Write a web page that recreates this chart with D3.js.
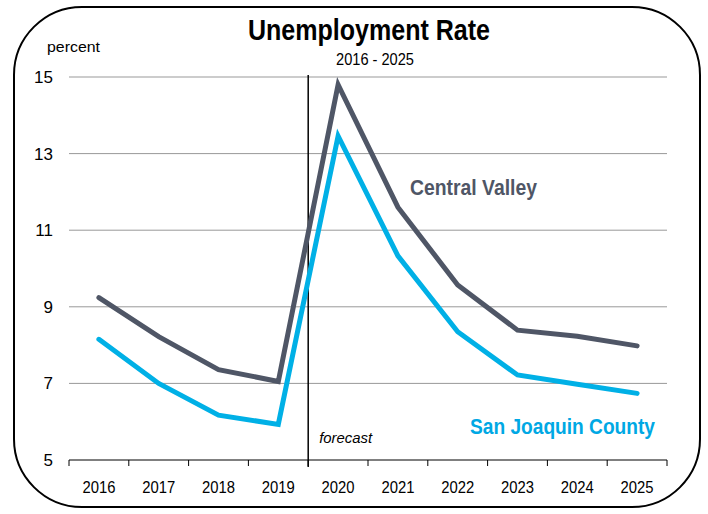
<html>
<head>
<script src="https://d3js.org/d3.v7.min.js"></script>
<style>
body { margin:0; background:#fff; }
text { font-family: "Liberation Sans Narrow", "Arial Narrow", "Liberation Sans", Arial, sans-serif; }
</style>
</head>
<body>
<script>
var width = 708;
var height = 514;
var margin = {top:77, right:41, bottom:54, left:69};
var w = width - margin.left - margin.right;
var h = height - margin.top - margin.bottom;

var years = ["2016","2017","2018","2019","2020","2021","2022","2023","2024","2025"];
var centralValley = [9.24, 8.22, 7.36, 7.05, 14.8, 11.6, 9.57, 8.39, 8.23, 7.98];
var sanJoaquin = [8.15, 7.0, 6.17, 5.93, 13.46, 10.33, 8.35, 7.22, 6.98, 6.74];
var yTicks = [5, 7, 9, 11, 13, 15];

var x = d3.scaleBand().domain(years).range([0, w]);
var y = d3.scaleLinear().domain([5, 15]).range([h, 0]);

var svg = d3.select("body").append("svg")
    .attr("width", width)
    .attr("height", height);

// rounded frame
svg.append("rect")
    .attr("x", 14).attr("y", 7)
    .attr("width", 686).attr("height", 500)
    .attr("rx", 68).attr("ry", 68)
    .attr("fill", "none")
    .attr("stroke", "black")
    .attr("stroke-width", 2);

svg.append("text").attr("x", 248).attr("y", 40)
    .style("font-size", "29px")
    .style("font-weight", "bold")
    .attr("textLength", 242)
    .attr("lengthAdjust", "spacingAndGlyphs")
    .text("Unemployment Rate");
svg.append("text").attr("x", 336).attr("y", 65)
    .style("font-size", "16px")
    .attr("textLength", 78)
    .attr("lengthAdjust", "spacingAndGlyphs")
    .text("2016 - 2025");
svg.append("text").attr("x", 47).attr("y", 52)
    .style("font-size", "15px")
    .attr("textLength", 53)
    .attr("lengthAdjust", "spacingAndGlyphs")
    .text("percent");

var g = svg.append("g")
    .attr("transform", "translate(" + margin.left + "," + margin.top + ")");

// gridlines
g.append("g")
  .selectAll("line")
  .data(yTicks.filter(function(d){ return d > 5; }))
  .enter().append("line")
    .attr("x1", 0).attr("x2", w)
    .attr("y1", function(d){ return y(d); })
    .attr("y2", function(d){ return y(d); })
    .attr("stroke", "#999")
    .attr("stroke-width", 1);

// y labels
g.append("g")
  .selectAll("text")
  .data(yTicks)
  .enter().append("text")
    .attr("x", -16)
    .attr("y", function(d){ return y(d); })
    .attr("dy", "0.35em")
    .attr("text-anchor", "end")
    .style("font-size", "17px")
    .text(function(d){ return d; });

// x axis
var xAxis = g.append("g")
    .attr("transform", "translate(0," + h + ")");
xAxis.append("line").attr("x1", 0).attr("x2", w).attr("stroke", "black").attr("stroke-width", 1);
xAxis.selectAll("line.tick")
  .data(years.concat(["end"]))
  .enter().append("line")
    .attr("class", "tick")
    .attr("x1", function(d, i){ return i * x.step(); })
    .attr("x2", function(d, i){ return i * x.step(); })
    .attr("y1", 0).attr("y2", 6)
    .attr("stroke", "black");
xAxis.selectAll("text")
  .data(years)
  .enter().append("text")
    .attr("x", function(d){ return x(d) + x.bandwidth() / 2; })
    .attr("y", 33)
    .attr("text-anchor", "middle")
    .style("font-size", "17px")
    .attr("textLength", 33)
    .attr("lengthAdjust", "spacingAndGlyphs")
    .text(function(d){ return d; });

// forecast divider
var fx = x("2020");
g.append("line")
    .attr("x1", fx).attr("x2", fx)
    .attr("y1", -2).attr("y2", h + 7)
    .attr("stroke", "black")
    .attr("stroke-width", 1.5);
g.append("text")
    .attr("x", fx + 11).attr("y", h - 17)
    .style("font-size", "15px")
    .style("font-style", "italic")
    .attr("textLength", 53)
    .attr("lengthAdjust", "spacingAndGlyphs")
    .text("forecast");

var line = d3.line()
    .x(function(d, i){ return x(years[i]) + x.bandwidth() / 2; })
    .y(function(d){ return y(d); });

g.append("path").datum(centralValley)
    .attr("d", line)
    .attr("fill", "none")
    .attr("stroke", "#4f5666")
    .attr("stroke-width", 5)
    .attr("stroke-linecap", "round");
g.append("path").datum(sanJoaquin)
    .attr("d", line)
    .attr("fill", "none")
    .attr("stroke", "#00b0e6")
    .attr("stroke-width", 5)
    .attr("stroke-linecap", "round");

svg.append("text").attr("x", 410).attr("y", 195)
    .style("font-size", "22px")
    .style("font-weight", "bold")
    .attr("fill", "#4f5666")
    .attr("textLength", 127)
    .attr("lengthAdjust", "spacingAndGlyphs")
    .text("Central Valley");
svg.append("text").attr("x", 470).attr("y", 434)
    .style("font-size", "22px")
    .style("font-weight", "bold")
    .attr("fill", "#00a8e4")
    .attr("textLength", 185)
    .attr("lengthAdjust", "spacingAndGlyphs")
    .text("San Joaquin County");
</script>
</body>
</html>
